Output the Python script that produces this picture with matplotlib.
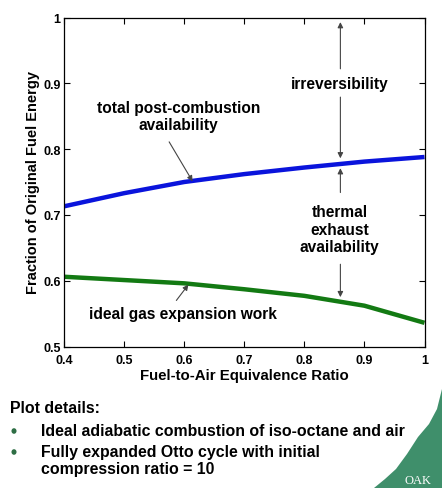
import numpy as np
import matplotlib.pyplot as plt
from matplotlib.patches import Polygon, Circle

plt.rcParams['font.family'] = ['Liberation Sans', 'DejaVu Sans']

# data
phi = [0.4, 0.5, 0.6, 0.7, 0.8, 0.9, 1.0]
total_avail = [0.713, 0.733, 0.750, 0.762, 0.772, 0.781, 0.788]
expansion_work = [0.606, 0.601, 0.596, 0.587, 0.577, 0.562, 0.536]

xticks = [0.4, 0.5, 0.6, 0.7, 0.8, 0.9, 1.0]
xticklabels = ['0.4', '0.5', '0.6', '0.7', '0.8', '0.9', '1']
yticks = [0.5, 0.6, 0.7, 0.8, 0.9, 1.0]
yticklabels = ['0.5', '0.6', '0.7', '0.8', '0.9', '1']

details = ['Ideal adiabatic combustion of iso-octane and air',
           'Fully expanded Otto cycle with initial\ncompression ratio = 10']

W, H = 442, 489
fig = plt.figure(figsize=(W / 100, H / 100), dpi=100)
fig.patch.set_facecolor('white')

# axes box in pixel units -> figure fraction
left, right, top, bottom = 64, 424.5, 18.5, 347.5
ax = fig.add_axes([left / W, 1 - bottom / H, (right - left) / W, (bottom - top) / H])

ax.plot(phi, total_avail, color='#0a14dc', lw=3.2, solid_capstyle='butt')
ax.plot(phi, expansion_work, color='#137a13', lw=3.2, solid_capstyle='butt')

ax.set_xlim(0.4, 1.0)
ax.set_ylim(0.5, 1.0)
ax.set_xticks(xticks)
ax.set_xticklabels(xticklabels)
ax.set_yticks(yticks)
ax.set_yticklabels(yticklabels)
ax.tick_params(direction='in', top=True, right=True, length=4, width=0.8,
               labelsize=9, pad=2.5)
ax.tick_params(axis='x', pad=5.5)
for lab in ax.get_xticklabels() + ax.get_yticklabels():
    lab.set_fontweight('bold')
for s in ax.spines.values():
    s.set_linewidth(0.9)

ax.set_xlabel('Fuel-to-Air Equivalence Ratio', fontsize=10.8, fontweight='bold', labelpad=1)
ax.set_ylabel('Fraction of Original Fuel Energy', fontsize=10.5, fontweight='bold', labelpad=2)

# annotation arrows
ap = dict(arrowstyle='-|>', color='#444444', lw=0.8, mutation_scale=8,
          shrinkA=0, shrinkB=0)
fs = 11.2
xa = 0.86
ax.text(0.8585, 0.899, 'irreversibility', ha='center', va='center', fontsize=fs,
        fontweight='bold')
ax.annotate('', xy=(xa, 0.993), xytext=(xa, 0.922), arrowprops=ap)
ax.annotate('', xy=(xa, 0.786), xytext=(xa, 0.879), arrowprops=ap)

ax.text(0.8585, 0.678, 'thermal\nexhaust\navailability', ha='center', va='center',
        fontsize=fs, fontweight='bold', linespacing=1.2)
ax.annotate('', xy=(xa, 0.771), xytext=(xa, 0.734), arrowprops=ap)
ax.annotate('', xy=(xa, 0.575), xytext=(xa, 0.625), arrowprops=ap)

ax.text(0.591, 0.850, 'total post-combustion\navailability', ha='center', va='center',
        fontsize=fs, fontweight='bold', linespacing=1.2)
ax.annotate('', xy=(0.614, 0.751), xytext=(0.575, 0.811), arrowprops=ap)

ax.text(0.598, 0.550, 'ideal gas expansion work', ha='center', va='center',
        fontsize=fs, fontweight='bold')
ax.annotate('', xy=(0.607, 0.594), xytext=(0.587, 0.570), arrowprops=ap)

# green swoosh decoration, bottom right
swoosh = Polygon([(374 / W, 0), (442 / W, 0), (442 / W, 1 - 390 / H),
                  (437 / W, 1 - 410 / H), (429 / W, 1 - 425 / H),
                  (418 / W, 1 - 438 / H), (407 / W, 1 - 455 / H),
                  (396 / W, 1 - 470 / H), (385 / W, 1 - 480 / H)],
                 closed=True, transform=fig.transFigure, facecolor='#3f8f6b',
                 edgecolor='none')
fig.patches.append(swoosh)
fig.text(418 / W, 1 - 481 / H, 'OAK', color='white', fontsize=9,
         family='Liberation Serif', ha='center', va='center')

# plot details text (baselines in pixels)
fs2 = 11.4
fig.text(10 / W, 1 - 413 / H, 'Plot details:', fontsize=fs2, fontweight='bold',
         va='baseline')
bullet_y = [432, 453]
line_y = [[436], [457, 474]]
for by, lys, t in zip(bullet_y, line_y, details):
    fig.patches.append(Circle((14 / W, 1 - by / H), 2.8 / H, transform=fig.transFigure,
                              facecolor='#2e6e45', edgecolor='none'))
    for ly, part in zip(lys, t.split('\n')):
        fig.text(41 / W, 1 - ly / H, part, fontsize=fs2, fontweight='bold',
                 va='baseline')

fig.savefig('out.png', dpi=100)
